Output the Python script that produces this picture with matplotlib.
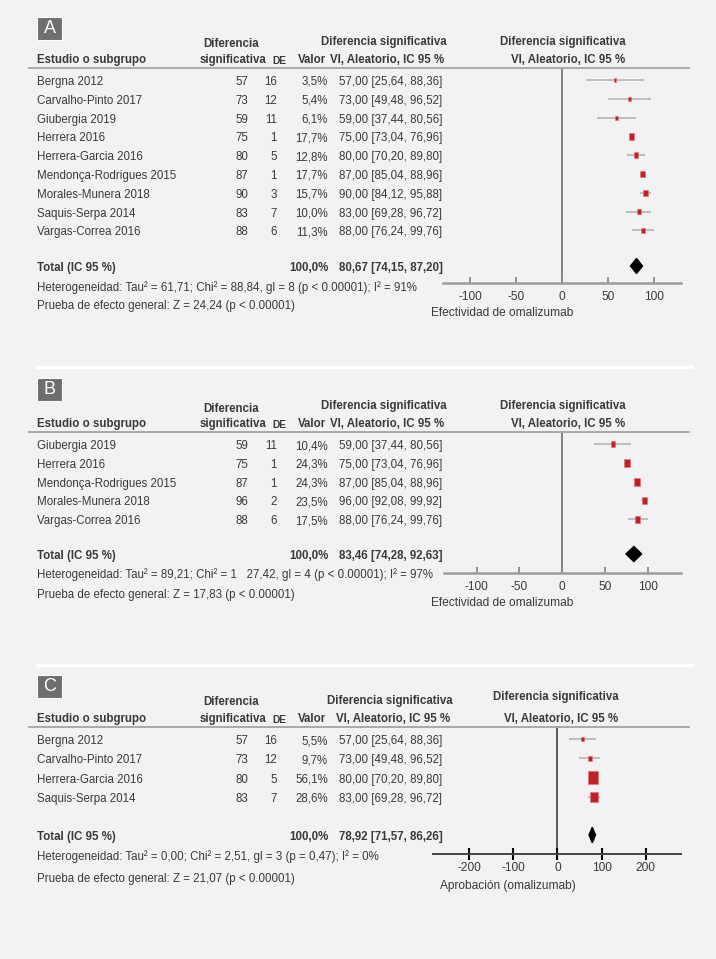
import matplotlib
matplotlib.use('Agg')
import matplotlib.pyplot as plt
import matplotlib.transforms as mtransforms
from matplotlib.lines import Line2D
from matplotlib.patches import Rectangle

plt.rcParams['font.family'] = ['Liberation Sans', 'DejaVu Sans']
plt.rcParams['axes.unicode_minus'] = False

# ---- data, panel A ----
a_studies = ['Bergna 2012', 'Carvalho-Pinto 2017', 'Giubergia 2019', 'Herrera 2016',
             'Herrera-Garcia 2016', 'Mendonça-Rodrigues 2015', 'Morales-Munera 2018',
             'Saquis-Serpa 2014', 'Vargas-Correa 2016']
a_means = [57, 73, 59, 75, 80, 87, 90, 83, 88]
a_sd = [16, 12, 11, 1, 5, 1, 3, 7, 6]
a_weights = [3.5, 5.4, 6.1, 17.7, 12.8, 17.7, 15.7, 10.0, 11.3]
a_lo = [25.64, 49.48, 37.44, 73.04, 70.20, 85.04, 84.12, 69.28, 76.24]
a_hi = [88.36, 96.52, 80.56, 76.96, 89.80, 88.96, 95.88, 96.72, 99.76]
a_total = (80.67, 74.15, 87.20)
a_total_w = 100.0
a_het = 'Heterogeneidad: Tau² = 61,71; Chi² = 88,84, gl = 8 (p < 0.00001); I² = 91%'
a_test = 'Prueba de efecto general: Z = 24,24 (p < 0.00001)'
a_xlabel = 'Efectividad de omalizumab'
a_ticks = [-100, -50, 0, 50, 100]

# ---- data, panel B ----
b_studies = ['Giubergia 2019', 'Herrera 2016', 'Mendonça-Rodrigues 2015',
             'Morales-Munera 2018', 'Vargas-Correa 2016']
b_means = [59, 75, 87, 96, 88]
b_sd = [11, 1, 1, 2, 6]
b_weights = [10.4, 24.3, 24.3, 23.5, 17.5]
b_lo = [37.44, 73.04, 85.04, 92.08, 76.24]
b_hi = [80.56, 76.96, 88.96, 99.92, 99.76]
b_total = (83.46, 74.28, 92.63)
b_total_w = 100.0
b_het = 'Heterogeneidad: Tau² = 89,21; Chi² = 1   27,42, gl = 4 (p < 0.00001); I² = 97%'
b_test = 'Prueba de efecto general: Z = 17,83 (p < 0.00001)'
b_xlabel = 'Efectividad de omalizumab'
b_ticks = [-100, -50, 0, 50, 100]

# ---- data, panel C ----
c_studies = ['Bergna 2012', 'Carvalho-Pinto 2017', 'Herrera-Garcia 2016', 'Saquis-Serpa 2014']
c_means = [57, 73, 80, 83]
c_sd = [16, 12, 5, 7]
c_weights = [5.5, 9.7, 56.1, 28.6]
c_lo = [25.64, 49.48, 70.20, 69.28]
c_hi = [88.36, 96.52, 89.80, 96.72]
c_total = (78.92, 71.57, 86.26)
c_total_w = 100.0
c_het = 'Heterogeneidad: Tau² = 0,00; Chi² = 2,51, gl = 3 (p = 0,47); I² = 0%'
c_test = 'Prueba de efecto general: Z = 21,07 (p < 0.00001)'
c_xlabel = 'Aprobación (omalizumab)'
c_ticks = [-200, -100, 0, 100, 200]

W, H = 716, 959
BG = '#f2f2f4'
TXT = '#3a3a3a'
FS = 8.3

fig = plt.figure(figsize=(W / 100, H / 100), dpi=100, facecolor=BG)


def fx(x):
    return x / W


def fy(y):
    return 1 - y / H


def dec(v, n=2):
    return f'{v:.{n}f}'.replace('.', ',')


# layout in pixels for each panel
panels = [
    dict(tag='A', studies=a_studies, means=a_means, sd=a_sd, w=a_weights, lo=a_lo, hi=a_hi,
         total=a_total, total_w=a_total_w, het=a_het, test=a_test, xlabel=a_xlabel, ticks=a_ticks,
         box_y=17, h1=44, h1m=42, h1r=42, h2=60, midx=384, rx1=563, rx2=568,
         line_y=68, row0=80, step=18.8, total_y=266, axis_y=283, het_y=288, test_y=306,
         ax_l=443, ax_r=681, xlim=(-129.5, 129), xlab=(431, 313), dark=False, k=2.0),
    dict(tag='B', studies=b_studies, means=b_means, sd=b_sd, w=b_weights, lo=b_lo, hi=b_hi,
         total=b_total, total_w=b_total_w, het=b_het, test=b_test, xlabel=b_xlabel, ticks=b_ticks,
         box_y=378, h1=409, h1m=406, h1r=406, h2=424, midx=384, rx1=563, rx2=568,
         line_y=432, row0=444, step=18.8, total_y=554, axis_y=573, het_y=575, test_y=595,
         ax_l=444, ax_r=681, xlim=(-138, 138.5), xlab=(431, 603), dark=False, k=1.9),
    dict(tag='C', studies=c_studies, means=c_means, sd=c_sd, w=c_weights, lo=c_lo, hi=c_hi,
         total=c_total, total_w=c_total_w, het=c_het, test=c_test, xlabel=c_xlabel, ticks=c_ticks,
         box_y=675, h1=702, h1m=701, h1r=697, h2=719, midx=390, rx1=556, rx2=561,
         line_y=727, row0=739, step=19.3, total_y=835, axis_y=854, het_y=857, test_y=879,
         ax_l=433, ax_r=681, xlim=(-282, 280), xlab=(440, 886), dark=True, k=2.4),
]

# white separators between panels
for y in (367, 665):
    fig.add_artist(Line2D([fx(37), fx(692)], [fy(y), fy(y)], color='white', lw=2.5))

for p in panels:
    # panel tag
    fig.add_artist(Rectangle((fx(37), fy(p['box_y'] + 23)), 25 / W, 23 / H,
                             facecolor='#6e6e6e', edgecolor='white', lw=0.8))
    fig.text(fx(49.5), fy(p['box_y'] + 11.5), p['tag'], color='white', fontsize=13,
             ha='center', va='center')

    # header
    hk = dict(color=TXT, fontweight='bold', va='center')
    fig.text(fx(37), fy(p['h2']), 'Estudio o subgrupo', ha='left', fontsize=FS, **hk)
    fig.text(fx(231), fy(p['h1']), 'Diferencia', ha='center', fontsize=FS, **hk)
    fig.text(fx(233), fy(p['h2']), 'significativa', ha='center', fontsize=FS, **hk)
    fig.text(fx(279), fy(p['h2'] + 1), 'DE', ha='center', fontsize=7.4, **hk)
    fig.text(fx(312), fy(p['h2']), 'Valor', ha='center', fontsize=FS, **hk)
    fig.text(fx(p['midx']), fy(p['h1m']), 'Diferencia significativa', ha='center', fontsize=FS, **hk)
    fig.text(fx(p['midx'] + 3), fy(p['h2']), 'VI, Aleatorio, IC 95 %', ha='center', fontsize=FS, **hk)
    fig.text(fx(p['rx1']), fy(p['h1r']), 'Diferencia significativa', ha='center', fontsize=FS, **hk)
    fig.text(fx(p['rx2']), fy(p['h2']), 'VI, Aleatorio, IC 95 %', ha='center', fontsize=FS, **hk)
    fig.add_artist(Line2D([fx(29), fx(689)], [fy(p['line_y'])] * 2, color='#a4a4a4', lw=1.3))

    # forest axes
    ax = fig.add_axes([fx(p['ax_l']), fy(p['axis_y']), (p['ax_r'] - p['ax_l']) / W,
                       (p['axis_y'] - p['line_y']) / H])
    ax.patch.set_alpha(0)
    ax.set_xlim(*p['xlim'])
    ax.set_ylim((p['axis_y'] - p['row0']) / p['step'], (p['line_y'] - p['row0']) / p['step'])
    n = len(p['studies'])
    rows = list(range(n))
    total_row = (p['total_y'] - p['row0']) / p['step']

    zc = '#333333' if p['dark'] else '#666666'
    ax.axvline(0, color=zc, lw=1.1, zorder=1)
    ax.hlines(rows, p['lo'], p['hi'], color='#b5b5b5', lw=1.2, zorder=2)
    rect = [(-0.75, -1), (0.75, -1), (0.75, 1), (-0.75, 1), (-0.75, -1)]
    sizes = [p['k'] * w * 0.5184 / 0.75 for w in p['w']]
    ax.scatter(p['means'], rows, s=sizes, marker=rect, facecolor='#c41e26',
               edgecolor='#e07a7a', lw=0.5, zorder=3)
    est, lo, hi = p['total']
    ax.fill([lo, est, hi, est], [total_row, total_row - 0.4, total_row, total_row + 0.4],
            color='black', zorder=3)

    for s in ('top', 'left', 'right'):
        ax.spines[s].set_visible(False)
    ax.set_yticks([])
    ax.set_xticks(p['ticks'])
    if p['dark']:
        ax.spines['bottom'].set_color('#444444')
        ax.spines['bottom'].set_linewidth(1.4)
        ax.tick_params(axis='x', direction='inout', length=9, width=1.5, color='black',
                       labelsize=8.6, labelcolor=TXT, pad=1.5)
    else:
        ax.spines['bottom'].set_color('#9c9c9c')
        ax.spines['bottom'].set_linewidth(1.8)
        ax.tick_params(axis='x', direction='in', length=4.5, width=1.3, color='#8a8a8a',
                       labelsize=8.6, labelcolor=TXT, pad=5.5)
    fig.text(fx(p['xlab'][0]), fy(p['xlab'][1]), p['xlabel'], fontsize=8.6, color=TXT,
             ha='left', va='center')

    # table rows share the y scale of the forest axes
    tr = mtransforms.blended_transform_factory(fig.transFigure, ax.transData)
    tr = mtransforms.offset_copy(tr, fig=fig, x=0, y=-2, units='dots')
    rk = dict(fontsize=FS, color=TXT, va='center', transform=tr)
    for i in rows:
        fig.text(fx(37), i, p['studies'][i], ha='left', **rk)
        fig.text(fx(248), i, str(p['means'][i]), ha='right', **rk)
        fig.text(fx(277), i, str(p['sd'][i]), ha='right', **rk)
        fig.text(fx(328), i, dec(p['w'][i], 1) + '%', ha='right', **rk)
        fig.text(fx(339), i, f"{dec(p['means'][i])} [{dec(p['lo'][i])}, {dec(p['hi'][i])}]",
                 ha='left', **rk)
    fig.text(fx(37), total_row, 'Total (IC 95 %)', ha='left', fontweight='bold', **rk)
    fig.text(fx(328), total_row, dec(p['total_w'], 1) + '%', ha='right', fontweight='bold', **rk)
    fig.text(fx(339), total_row, f'{dec(est)} [{dec(lo)}, {dec(hi)}]', ha='left',
             fontweight='bold', **rk)

    fig.text(fx(37), fy(p['het_y']), p['het'], fontsize=FS, color=TXT, ha='left', va='center')
    fig.text(fx(37), fy(p['test_y']), p['test'], fontsize=FS, color=TXT, ha='left', va='center')

fig.savefig('out.png', dpi=100, facecolor=BG)
